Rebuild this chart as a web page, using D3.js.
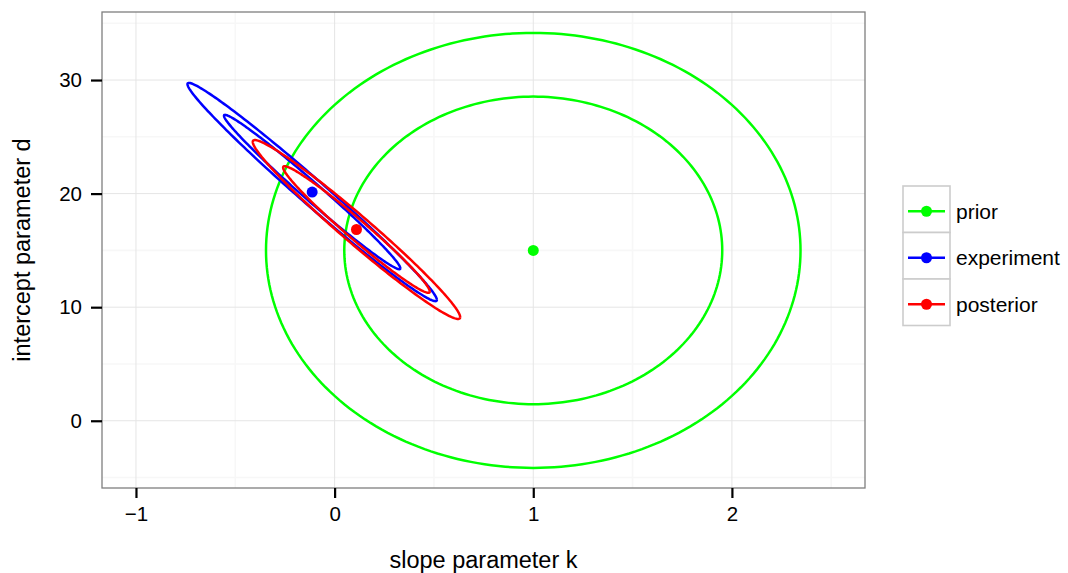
<!DOCTYPE html>
<html>
<head>
<meta charset="utf-8">
<script src="https://cdn.jsdelivr.net/npm/d3@7"></script>
<style>
  html, body { margin: 0; padding: 0; background: #fff; }
  svg { display: block; font-family: "Liberation Sans", Arial, sans-serif; }
</style>
</head>
<body>
<svg id="chart" width="1068" height="573"></svg>
<script>
// Groups and their bivariate-normal summaries (slope k, intercept d)
const groups  = ["prior", "experiment", "posterior"];
const colours = ["#00FF00", "#0000FF", "#FF0000"];
const centerK = [1.0, -0.113, 0.110];
const centerD = [15.0, 20.14, 16.84];
const sdK     = [0.808, 0.377, 0.3135];
const sdD     = [11.5, 5.77, 4.73];
const corrKD  = [0, -0.988, -0.979];
// Probability levels of the drawn contours
const levels  = [0.5, 0.75];

// Axis ticks
const xTicks = [-1, 0, 1, 2];
const yTicks = [0, 10, 20, 30];
const xMinor = [-0.5, 0.5, 1.5, 2.5];
const yMinor = [-5, 5, 15, 25, 35];
const xDomain = [-1.171, 2.67];
const yDomain = [-5.92, 35.99];

const svg = d3.select("#chart");
const panel = { left: 102, right: 865, top: 12, bottom: 488 };

const x = d3.scaleLinear().domain(xDomain).range([panel.left, panel.right]);
const y = d3.scaleLinear().domain(yDomain).range([panel.bottom, panel.top]);

// Panel background and grid
svg.append("rect")
  .attr("x", panel.left).attr("y", panel.top)
  .attr("width", panel.right - panel.left).attr("height", panel.bottom - panel.top)
  .attr("fill", "#fff");

const grid = svg.append("g");
grid.selectAll("line.xminor").data(xMinor).join("line")
  .attr("x1", d => x(d)).attr("x2", d => x(d))
  .attr("y1", panel.top).attr("y2", panel.bottom)
  .attr("stroke", "#f7f7f7").attr("stroke-width", 1.6);
grid.selectAll("line.yminor").data(yMinor).join("line")
  .attr("y1", d => y(d)).attr("y2", d => y(d))
  .attr("x1", panel.left).attr("x2", panel.right)
  .attr("stroke", "#f7f7f7").attr("stroke-width", 1.6);
grid.selectAll("line.xmajor").data(xTicks).join("line")
  .attr("x1", d => x(d)).attr("x2", d => x(d))
  .attr("y1", panel.top).attr("y2", panel.bottom)
  .attr("stroke", "#e5e5e5").attr("stroke-width", 1);
grid.selectAll("line.ymajor").data(yTicks).join("line")
  .attr("y1", d => y(d)).attr("y2", d => y(d))
  .attr("x1", panel.left).attr("x2", panel.right)
  .attr("stroke", "#e5e5e5").attr("stroke-width", 1);

// Contour ellipses
const radius = p => Math.sqrt(-2 * Math.log(1 - p));
const nPts = 240;
function ellipse(i, p) {
  const r = radius(p);
  const rho = corrKD[i];
  const s = Math.sqrt(1 - rho * rho);
  return d3.range(nPts + 1).map(j => {
    const t = 2 * Math.PI * j / nPts;
    const u = Math.cos(t), v = Math.sin(t);
    return [centerK[i] + r * sdK[i] * u,
            centerD[i] + r * sdD[i] * (rho * u + s * v)];
  });
}
const line = d3.line().x(d => x(d[0])).y(d => y(d[1]));

const plot = svg.append("g");
groups.forEach((g, i) => {
  levels.forEach(p => {
    plot.append("path")
      .attr("d", line(ellipse(i, p)))
      .attr("fill", "none")
      .attr("stroke", colours[i])
      .attr("stroke-width", 2.5);
  });
});
groups.forEach((g, i) => {
  plot.append("circle")
    .attr("cx", x(centerK[i])).attr("cy", y(centerD[i]))
    .attr("r", 5.5).attr("fill", colours[i]);
});

// Panel border
svg.append("rect")
  .attr("x", panel.left).attr("y", panel.top)
  .attr("width", panel.right - panel.left).attr("height", panel.bottom - panel.top)
  .attr("fill", "none").attr("stroke", "#7f7f7f").attr("stroke-width", 1.3);

// Axes
const xAxis = svg.append("g")
  .attr("transform", `translate(0,${panel.bottom})`)
  .call(d3.axisBottom(x).tickValues(xTicks).tickSize(10).tickPadding(8)
        .tickFormat(d => d < 0 ? "\u2212" + Math.abs(d) : d));
const yAxis = svg.append("g")
  .attr("transform", `translate(${panel.left},0)`)
  .call(d3.axisLeft(y).tickValues(yTicks).tickSize(11).tickPadding(9));
[xAxis, yAxis].forEach(a => {
  a.select(".domain").remove();
  a.selectAll(".tick line").attr("stroke", "#000").attr("stroke-width", 2.2);
  a.selectAll(".tick text").attr("fill", "#000").style("font-size", "20.5px")
    .style("font-family", "'Liberation Sans', Arial, sans-serif");
});

// Axis titles
svg.append("text")
  .attr("x", (panel.left + panel.right) / 2).attr("y", 568)
  .attr("text-anchor", "middle")
  .style("font-size", "23.5px")
  .text("slope parameter k");
svg.append("text")
  .attr("transform", `translate(30,${(panel.top + panel.bottom) / 2}) rotate(-90)`)
  .attr("text-anchor", "middle")
  .style("font-size", "23.5px")
  .text("intercept parameter d");

// Legend
const legend = svg.append("g").attr("transform", "translate(903,186)");
const keyW = 47, keyH = 46.5;
groups.forEach((g, i) => {
  const row = legend.append("g").attr("transform", `translate(0,${i * keyH})`);
  row.append("rect")
    .attr("x", 0).attr("y", 0).attr("width", keyW).attr("height", keyH)
    .attr("fill", "#fff").attr("stroke", "#cccccc").attr("stroke-width", 1.6);
  row.append("line")
    .attr("x1", 5).attr("x2", 42).attr("y1", keyH / 2 + 2).attr("y2", keyH / 2 + 2)
    .attr("stroke", colours[i]).attr("stroke-width", 2.5);
  row.append("circle")
    .attr("cx", keyW / 2).attr("cy", keyH / 2 + 2).attr("r", 5.5)
    .attr("fill", colours[i]);
  row.append("text")
    .attr("x", 53).attr("y", keyH / 2 + 2).attr("dy", "0.36em")
    .style("font-size", "21px")
    .text(g);
});
</script>
</body>
</html>
